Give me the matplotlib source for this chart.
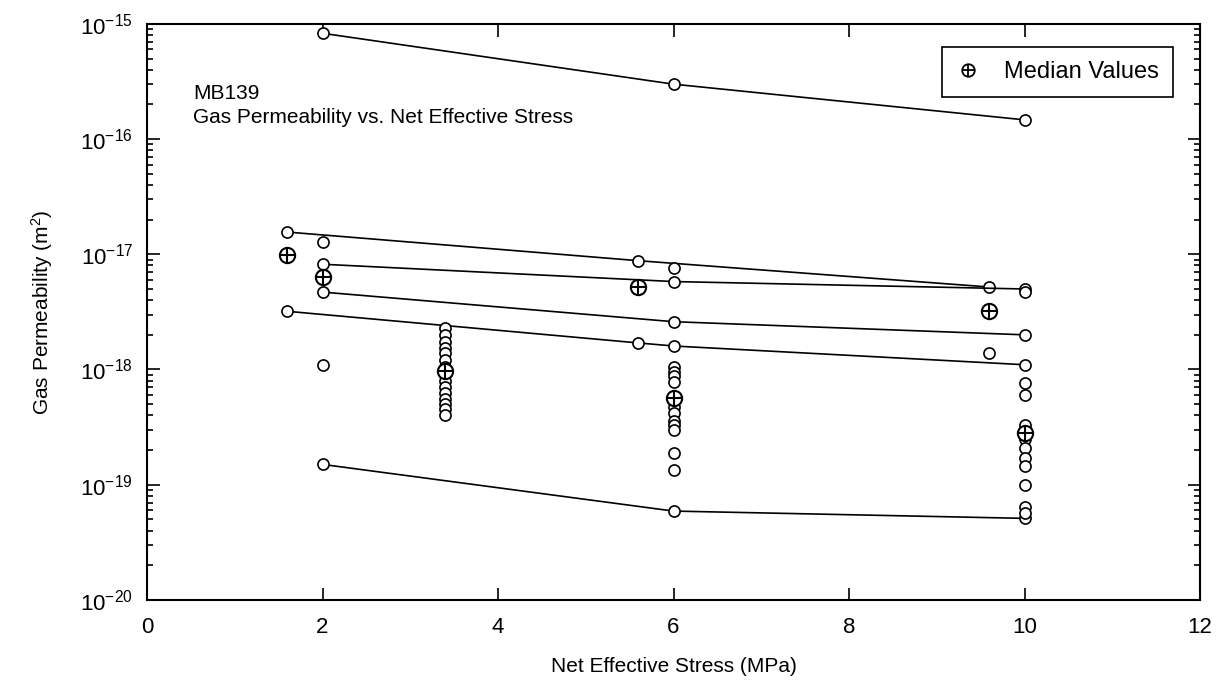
import numpy as np
import matplotlib
matplotlib.use("Agg")
import matplotlib.pyplot as plt
from matplotlib.ticker import FixedLocator, FixedFormatter

plt.rcParams['font.family'] = ['Liberation Sans', 'DejaVu Sans']
plt.rcParams['mathtext.fontset'] = 'custom'
plt.rcParams['mathtext.rm'] = 'Liberation Sans'
plt.rcParams['mathtext.it'] = 'Liberation Sans'

# connected test sequences (stress in MPa, permeability in m^2)
s1_x = [2, 6, 10]
s1_k = [8.3e-16, 3.0e-16, 1.47e-16]
s2_x = [1.6, 5.6, 9.6]
s2_k = [1.56e-17, 8.8e-18, 5.2e-18]
s3_x = [2, 6, 10]
s3_k = [8.2e-18, 5.8e-18, 5.0e-18]
s4_x = [2, 6, 10]
s4_k = [4.7e-18, 2.6e-18, 2.0e-18]
s5_x = [1.6, 5.6, 6, 10]
s5_k = [3.2e-18, 1.7e-18, 1.6e-18, 1.1e-18]
s6_x = [2, 6, 10]
s6_k = [1.5e-19, 5.9e-20, 5.1e-20]

# single measurements
pts_x = ([2, 2, 6, 9.6, 10] +
         [3.4] * 15 +
         [6] * 11 +
         [10] * 10)
pts_k = ([1.28e-17, 1.1e-18, 7.6e-18, 1.4e-18, 4.7e-18] +
         [2.3e-18, 2.0e-18, 1.75e-18, 1.55e-18, 1.4e-18, 1.2e-18, 1.05e-18,
          9.0e-19, 8.0e-19, 7.0e-19, 6.2e-19, 5.5e-19, 5.0e-19, 4.5e-19, 4.0e-19] +
         [1.05e-18, 9.5e-19, 8.7e-19, 7.8e-19, 4.7e-19, 4.2e-19, 3.6e-19,
          3.3e-19, 3.0e-19, 1.9e-19, 1.35e-19] +
         [7.6e-19, 6.0e-19, 3.3e-19, 2.5e-19, 2.1e-19, 1.7e-19, 1.45e-19,
          1.0e-19, 6.4e-20, 5.7e-20])

# medians per stress level
med_x = [1.6, 2, 3.4, 5.6, 6, 9.6, 10]
med_k = [9.8e-18, 6.4e-18, 9.8e-19, 5.2e-18, 5.7e-19, 3.2e-18, 2.8e-19]

x_ticks = [0, 2, 4, 6, 8, 10, 12]
y_exps = [-20, -19, -18, -17, -16, -15]

fig = plt.figure(figsize=(12.25, 6.84), dpi=100)
ax = fig.add_axes([0.12, 0.123, 0.8596, 0.842])

circ = dict(marker='o', ms=8, mfc='white', mec='black', mew=1.2)
for xs, ks in [(s1_x, s1_k), (s2_x, s2_k), (s3_x, s3_k),
               (s4_x, s4_k), (s5_x, s5_k), (s6_x, s6_k)]:
    ax.plot(xs, ks, color='black', lw=1.2, **circ)

ax.plot(pts_x, pts_k, ls='none', **circ)

# median symbol: circle with a cross
ax.plot(med_x, med_k, ls='none', marker='o', ms=11, mfc='white',
        mec='black', mew=1.5, zorder=4)
ax.plot(med_x, med_k, ls='none', marker='+', ms=11, mec='black',
        mew=1.5, zorder=5)

ax.set_yscale('log')
ax.set_xlim(0, 12)
ax.set_ylim(1e-20, 1e-15)
ax.xaxis.set_major_locator(FixedLocator(x_ticks))
ax.yaxis.set_major_locator(FixedLocator([10.0 ** e for e in y_exps]))
ax.yaxis.set_major_formatter(FixedFormatter([r'$10^{%d}$' % e for e in y_exps]))
minor = [m * 10.0 ** e for e in y_exps[:-1] for m in range(2, 10)]
ax.yaxis.set_minor_locator(FixedLocator(minor))

ax.tick_params(which='both', direction='in', top=True, right=True,
               labelsize=16, width=1.2)
ax.tick_params(axis='x', which='major', length=9, pad=12)
ax.tick_params(axis='y', which='major', length=9, pad=10)
ax.tick_params(which='minor', length=4)
for sp in ax.spines.values():
    sp.set_linewidth(1.5)

ax.set_xlabel('Net Effective Stress (MPa)', fontsize=15, labelpad=14)
ax.set_ylabel('Gas Permeability (m$^2$)', fontsize=15, labelpad=18)

ax.text(0.044, 0.88, 'MB139', transform=ax.transAxes, fontsize=15, va='center')
ax.text(0.044, 0.837, 'Gas Permeability vs. Net Effective Stress',
        transform=ax.transAxes, fontsize=15, va='center')

h1, = ax.plot([], [], ls='none', marker='o', ms=9, mfc='white', mec='black', mew=1.3)
h2, = ax.plot([], [], ls='none', marker='+', ms=9, mec='black', mew=1.3)
leg = ax.legend([(h1, h2)], ['Median Values'], loc='upper right',
                bbox_to_anchor=(0.974, 0.96), borderaxespad=0,
                fontsize=17, fancybox=False, edgecolor='black', framealpha=1,
                handlelength=1.0, handletextpad=1.0, borderpad=0.6)
leg.get_frame().set_linewidth(1.2)

fig.savefig('out.png', dpi=100)
